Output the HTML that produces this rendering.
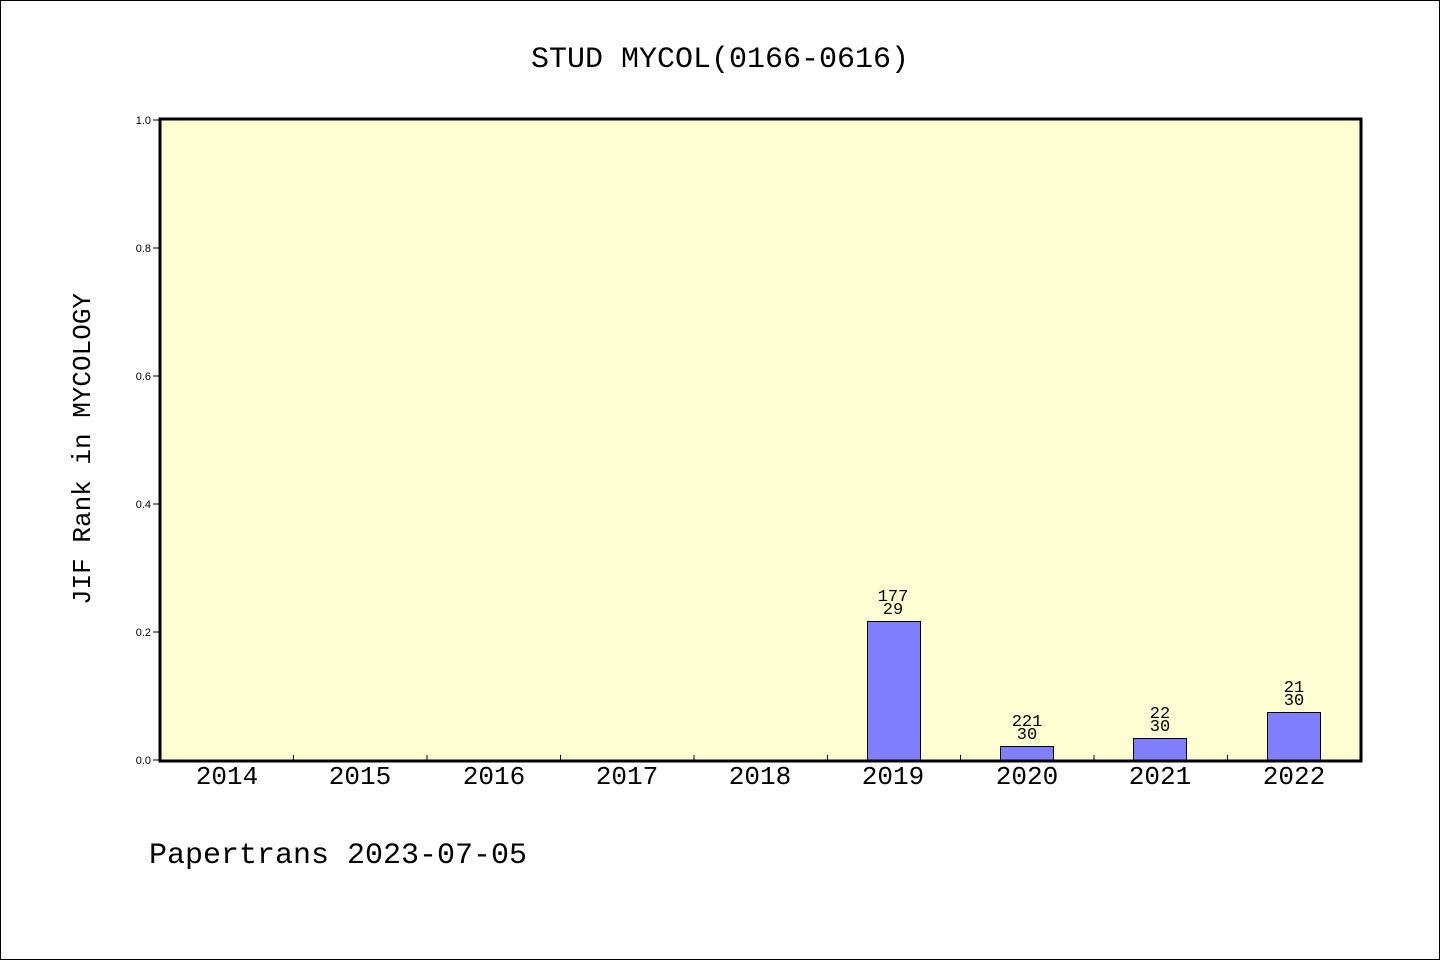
<!DOCTYPE html>
<html><head><style>
body{margin:0;background:#fff}
svg text{font-family:"WenQuanYi Zen Hei","Liberation Mono",monospace;fill:#000}
svg text.s{font-family:"Liberation Sans",sans-serif}
</style></head><body>
<svg width="1440" height="960" xmlns="http://www.w3.org/2000/svg">
<rect x="0.5" y="0.5" width="1439" height="959" fill="#fff" stroke="#000"/>
<text x="720" y="67" font-size="30" text-anchor="middle">STUD MYCOL(0166-0616)</text>
<rect x="160" y="119" width="1201" height="642" fill="#ffffd3"/>
<g stroke="#000" stroke-width="1">
<line x1="153" y1="120" x2="160" y2="120"/><line x1="153" y1="248" x2="160" y2="248"/>
<line x1="153" y1="376" x2="160" y2="376"/><line x1="153" y1="504" x2="160" y2="504"/>
<line x1="153" y1="632" x2="160" y2="632"/><line x1="153" y1="760" x2="160" y2="760"/>
<line x1="293.5" y1="755" x2="293.5" y2="761"/><line x1="427" y1="755" x2="427" y2="761"/>
<line x1="560.5" y1="755" x2="560.5" y2="761"/><line x1="694" y1="755" x2="694" y2="761"/>
<line x1="827.5" y1="755" x2="827.5" y2="761"/><line x1="960.5" y1="755" x2="960.5" y2="761"/>
<line x1="1094" y1="755" x2="1094" y2="761"/><line x1="1227.5" y1="755" x2="1227.5" y2="761"/>
</g>
<g font-size="11" text-anchor="end">
<text class="s" x="151" y="124">1.0</text><text class="s" x="151" y="252">0.8</text><text class="s" x="151" y="380">0.6</text>
<text class="s" x="151" y="508">0.4</text><text class="s" x="151" y="636">0.2</text><text class="s" x="151" y="764">0.0</text>
</g>
<g fill="#8080ff" stroke="#000" stroke-width="1">
<rect x="867.5" y="621.5" width="53" height="139"/>
<rect x="1000.5" y="746.5" width="53" height="14"/>
<rect x="1133.5" y="738.5" width="53" height="22"/>
<rect x="1267.5" y="712.5" width="53" height="48"/>
</g>
<g font-size="17" text-anchor="middle">
<text x="893" y="601">177</text><text x="893" y="614">29</text>
<text x="1027" y="726">221</text><text x="1027" y="739">30</text>
<text x="1160" y="718">22</text><text x="1160" y="731">30</text>
<text x="1294" y="692">21</text><text x="1294" y="705">30</text>
</g>
<rect x="160" y="119" width="1201" height="642" fill="none" stroke="#000" stroke-width="3"/>
<g font-size="26" text-anchor="middle">
<text x="227" y="784">2014</text><text x="360" y="784">2015</text><text x="494" y="784">2016</text>
<text x="627" y="784">2017</text><text x="760" y="784">2018</text><text x="893" y="784">2019</text>
<text x="1027" y="784">2020</text><text x="1160" y="784">2021</text><text x="1294" y="784">2022</text>
</g>
<text transform="translate(90,449) rotate(-90)" font-size="26" text-anchor="middle">JIF Rank in MYCOLOGY</text>
<text x="149" y="863" font-size="30">Papertrans 2023-07-05</text>
</svg>
</body></html>
